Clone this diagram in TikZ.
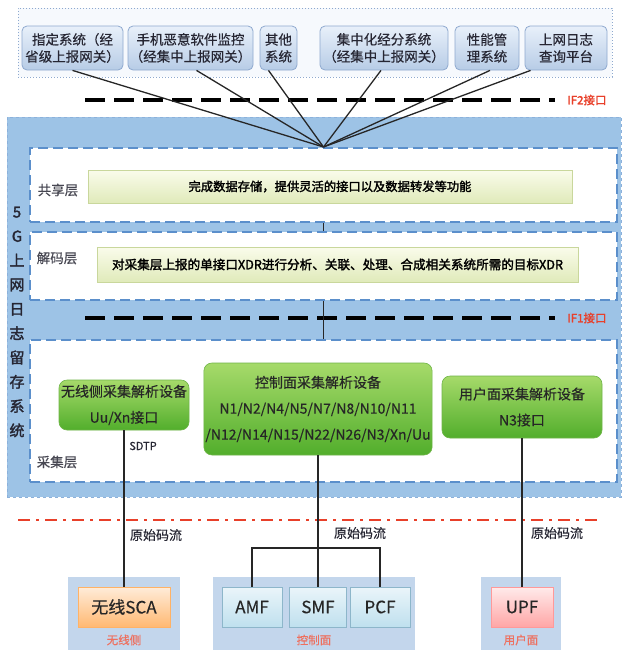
\documentclass[tikz,border=0pt]{standalone}
\usepackage{fontspec}
\setmainfont{Noto Sans CJK SC}[UprightFeatures={FakeBold=0.4}, AutoFakeBold=2]
\usetikzlibrary{calc}
\definecolor{lgblue}{HTML}{9DC3E6}
\definecolor{lgdash}{HTML}{5B8FCB}
\definecolor{lgtop}{HTML}{8EA9CF}
\definecolor{lgtopA}{HTML}{E8F0FA}
\definecolor{lgtopB}{HTML}{B7CCE6}
\definecolor{lgyelA}{HTML}{FAFCEB}
\definecolor{lgyelB}{HTML}{E0EABA}
\definecolor{lgyelD}{HTML}{C9D79C}
\definecolor{lggrnA}{HTML}{A6DA6A}
\definecolor{lggrnB}{HTML}{52AE2C}
\definecolor{lggrnD}{HTML}{6FB548}
\definecolor{lggrp}{HTML}{C3D6EC}
\definecolor{lgcellA}{HTML}{EAF5FA}
\definecolor{lgcellB}{HTML}{BFE0EE}
\definecolor{lgcellD}{HTML}{8DB6CA}
\definecolor{lgred}{HTML}{E8402A}
\definecolor{lgtxt}{HTML}{262633}

\begin{document}
\begin{tikzpicture}[
  x=1pt, y=-1pt,
  topbox/.style={draw=lgtop, line width=0.8pt, rounded corners=5pt,
                 top color=lgtopA, bottom color=lgtopB, minimum height=44pt,
                 inner sep=0.5pt, align=center, text=lgtxt,
                 font=\fontsize{13.5}{17}\selectfont},
  layer/.style={draw=lgdash, line width=2pt, dash pattern=on 10pt off 5pt,
                fill=white, minimum width=587pt},
  layerlbl/.style={text=lgtxt!85, font=\fontsize{13.5}{15}\selectfont},
  descbox/.style={draw=lgyelD, line width=0.8pt, top color=lgyelA,
                  bottom color=lgyelB, minimum height=33pt, text=black,
                  font=\bfseries\fontsize{12.3}{14}\selectfont},
  devbox/.style={draw=lggrnD, line width=0.6pt, rounded corners=8pt,
                 top color=lggrnA, bottom color=lggrnB, align=center,
                 inner sep=1.5pt, text=black!85, font=\fontsize{14}{26}\selectfont},
  grp/.style={fill=lggrp, minimum height=73pt},
  nfbox/.style={draw=lgcellD, line width=0.6pt, top color=lgcellA,
                bottom color=lgcellB, minimum height=40pt, text=black!85,
                font=\fontsize{17}{19}\selectfont},
  grplbl/.style={text=lgred!75, font=\fontsize{11.5}{13}\selectfont},
  flow/.style={font=\fontsize{13}{15}\selectfont, text=lgtxt},
  link/.style={draw=black!85, line width=1.3pt},
  ifline/.style={black, line width=3.5pt, dash pattern=on 20pt off 9pt},
  iflbl/.style={text=lgred, font=\bfseries\fontsize{11.5}{13}\selectfont},
]
\useasboundingbox (0,0) rectangle (623,659);

%% ---- 上层应用系统 ----
\node[draw=lgtop, dotted, line width=1pt, fill=lgtopA!40,
      minimum width=594pt, minimum height=69pt] (apps) at (315,42.5) {};
\node[topbox, minimum width=101pt] (top1) at (72.5,48)  {指定系统（经\\省级上报网关）};
\node[topbox, minimum width=125pt] (top2) at (190.5,48) {手机恶意软件监控\\（经集中上报网关）};
\node[topbox, minimum width=37pt]  (top3) at (278.5,48) {其他\\系统};
\node[topbox, minimum width=128pt] (top4) at (384,48)   {集中化经分系统\\（经集中上报网关）};
\node[topbox, minimum width=64pt]  (top5) at (487,48)   {性能管\\理系统};
\node[topbox, minimum width=82pt]  (top6) at (566,48)   {上网日志\\查询平台};

%% IF2
\draw[ifline] (85,100) -- (555,100);
\node[iflbl] (if2) at (587,100) {IF2接口};

%% ---- 5G上网日志留存系统 ----
\node[draw=lgdash!70, dashed, line width=1pt, fill=lgblue,
      minimum width=614pt, minimum height=380pt] (sys) at (314,307) {};
\node[text=lgtxt, align=center, font=\bfseries\fontsize{15}{24.3}\selectfont]
  (sysname) at (17,322) {5\\G\\上\\网\\日\\志\\留\\存\\系\\统};

%% 共享层
\node[layer, minimum height=74pt] (share) at (323.5,185) {};
\node[layerlbl] (sharelbl) at (58,190) {共享层};
\node[descbox, minimum width=484pt] (shareTxt) at (330,186.5)
  {完成数据存储，提供灵活的接口以及数据转发等功能};

%% 解码层
\node[layer, minimum height=68pt] (decode) at (323.5,266) {};
\node[layerlbl] (decodelbl) at (57,258) {解码层};
\node[descbox, minimum width=481pt, minimum height=35pt,
      font=\bfseries\fontsize{12.6}{14}\selectfont] (decodeTxt) at (337.5,264.5)
  {对采集层上报的单接口XDR进行分析、关联、处理、合成相关系统所需的目标XDR};

%% IF1
\draw[ifline] (85,318) -- (555,318);
\node[iflbl] (if1) at (587,318) {IF1接口};

%% 采集层
\node[layer, minimum height=142pt] (collect) at (323.5,411) {};
\node[layerlbl] (collectlbl) at (57,462) {采集层};
\node[devbox, minimum width=130pt, minimum height=50pt] (radioDev) at (124,405)
  {无线侧采集解析设备\\Uu/Xn接口};
\node[devbox, minimum width=227pt, minimum height=92pt] (ctrlDev) at (318,409)
  {控制面采集解析设备\\N1/N2/N4/N5/N7/N8/N10/N11\\/N12/N14/N15/N22/N26/N3/Xn/Uu};
\node[devbox, minimum width=160pt, minimum height=62pt] (userDev) at (522,407)
  {用户面采集解析设备\\N3接口};
\node[font=\fontsize{11}{13}\selectfont, text=lgtxt] (sdtp) at (143,446) {SDTP};

%% 上报连线
\coordinate (hub) at (share.north);
\draw[link] (top1.south) -- (hub);
\draw[link] ($(top2.south)+(6,0)$) -- (hub);
\draw[link] ($(top3.south)+(-10,0)$) -- (hub);
\draw[link] ($(top4.south)+(-3,0)$) -- (hub);
\draw[link] ($(top5.south)+(3,0)$) -- (hub);
\draw[link] ($(top6.south west)+(6,0)$) -- (hub);
\draw[link] (share.south) -- (decode.north);
\draw[link] (decode.south) -- (collect.north);

%% ---- 分界线 ----
\draw[lgred, line width=2.5pt, dash pattern=on 12pt off 6pt on 3pt off 6pt]
  (18,520) -- (600,520);

%% ---- 5G网元 ----
\node[grp, minimum width=112pt] (grpRadio) at (124,613.5) {};
\node[grp, minimum width=202pt] (grpCtrl)  at (314,613.5) {};
\node[grp, minimum width=80pt]  (grpUser)  at (521,613.5) {};

\node[nfbox, minimum width=92pt, top color=orange!15, bottom color=orange!55,
      draw=orange!60] (sca) at (124,607) {无线SCA};
\node[nfbox, minimum width=60pt] (amf) at (252,607)   {AMF};
\node[nfbox, minimum width=57pt] (smf) at (318,607)   {SMF};
\node[nfbox, minimum width=60pt] (pcf) at (380,607)   {PCF};
\node[nfbox, minimum width=62pt, top color=red!8, bottom color=red!35,
      draw=red!40] (upf) at (522,607) {UPF};

\node[grplbl] (radiolbl) at (124,640) {无线侧};
\node[grplbl] (ctrllbl)  at (314,640) {控制面};
\node[grplbl] (userlbl)  at (521,640) {用户面};

%% 原始码流
\draw[link] (radioDev.south) -- (sca.north);
\draw[link] (ctrlDev.south) -- (smf.north);
\draw[link] (userDev.south) -- (upf.north);
\coordinate (brk) at (318,548);
\draw[link] (amf.north) |- (brk) -| (pcf.north);

\node[flow] (flow1) at (156,535) {原始码流};
\node[flow] (flow2) at (360,533) {原始码流};
\node[flow] (flow3) at (557,533) {原始码流};

\end{tikzpicture}
\end{document}
